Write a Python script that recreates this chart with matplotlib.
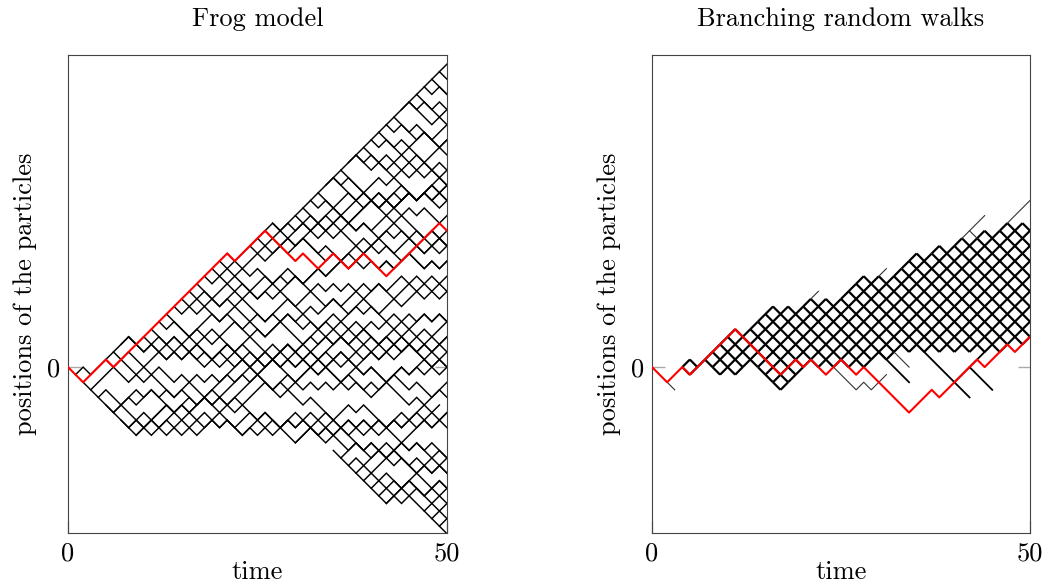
import matplotlib
matplotlib.use('Agg')
import matplotlib.pyplot as plt
import numpy as np
from matplotlib.collections import LineCollection

T_MAX = 50
Y_LO, Y_HI = -21.9, 41.2

# ---- frog model ----
# first frog (red), corner points
frog_red_t = [0, 2, 5, 6, 21, 22, 26, 30, 31, 33, 35, 37, 39, 42, 49, 50]
frog_red_y = [0, -2, 1, 0, 15, 14, 18, 14, 15, 13, 15, 13, 15, 12, 19, 18]

# woken frogs: wake-up time, site, walk as U/D steps
frog_start_t = [5, 6, 7, 8, 11, 12, 13, 14, 15, 16, 17, 18, 19, 20, 21,
                24, 25, 26, 27, 30, 31, 32, 33, 34, 35, 36, 37, 38, 39,
                40, 41, 42, 43, 44, 45, 46, 47, 48, 49,
                1, 2, 3, 4, 5, 6, 7, 8, 9, 30,
                35, 36, 37, 38, 39, 40, 41, 42, 47, 48, 49]
frog_start_y = [1, 2, 3, 4, 5, 6, 7, 8, 9, 10, 11, 12, 13, 14, 15,
                16, 17, 18, 19, 20, 21, 22, 23, 24, 25, 26, 27, 28, 29,
                30, 31, 32, 33, 34, 35, 36, 37, 38, 39,
                -1, -2, -3, -4, -5, -6, -7, -8, -9, -10,
                -11, -12, -13, -14, -15, -16, -17, -18, -19, -20, -21]
frog_steps = [
    "UUUDDUDUDDUUDDDUDUUDDUUUDDDUDUUDDUUDUUDUDDUDD",
    "DUDDDUDDUDDDUDUUUDUDDDUDDUDDDUUDUDDDUDUDUUDU",
    "UDUDDDUUDUUUDUUDDUDUUUDUDDUUDUUUDDUUDUUDUDU",
    "DDUUDUDDDUDUUDDDUDUDDDUUDUDDDUDUDUUDDUDDUD",
    "DDUDUDDDUUDUDDUDUUDDUDUUUDUDDUDUDUDDDUU",
    "DUDDUUUDUUDDUDUUUDDUDUUDUUUDUDDUUUDUDU",
    "DDDUDDUDDUUDDUDDDUUDUDUDDDUDDUUDUUDDU",
    "DUUDUDUUDUUUDUDUDUUDUUDUUDDUDUUUDUUD",
    "DDUDDUDDUDDUUDDDUDUDUDDUUDUDUDUDDUU",
    "DUDUUDUDDUUDUUDUUDUUDUUUDUDUUDDUDU",
    "DDDUDUDDDUDUDDUDUDDDUUDDUDUDDUDUD",
    "DUUDUUUDUUDUUUDUUUDUUUDUDUUDUUUD",
    "DDUDDDUDUDDUUDDUDDUDUDDDUUDUDUD",
    "DUUUDUUDUUUDUUDUDUUUDUUDUDUUDU",
    "DDDUDDUUDDDUDUDUDDUUDUUDDUDUD",
    "UUUDDDUDDUDDUDDUDUDUUDDUDU",
    "DDUUDUDDDUDUUDUUDDDUDDUDU",
    "DUUDUUDUUDUUDUUDDUUDUDUD",
    "DUUDDUDDUDDUDUUDUDDUUDD",
    "UDDDUDUDUDDUUDDUDDUD",
    "UDUDDDDUDUUDUDDDUDU",
    "UDDUUDUDDDUDUDUDDU",
    "UUDDDUDDUDUUDUDDU",
    "UDUDDDUDUUDDUDUD",
    "UDDDUUDUDDDUUDU",
    "UUDDUDDUUDUDDD",
    "UDUDDUDDUDUDU",
    "UDDUDUUDDDUD",
    "UDUDDDUDUUD",
    "UDDUDUUDDU",
    "UDUDDUDDU",
    "UDDUDDUU",
    "UUDDDUD",
    "UDUDDU",
    "UDDUD",
    "UDUD",
    "UDD",
    "UD",
    "U",
    "UDUUDUDDUUUDUDUDDUUDUDDDUUDUDUDUDDDUUDUDDUUDUDUUD",
    "DDDDDDDUUDUDDUDUUDUDDUDUUDUDUDDDUUDUDUDUUDUUUDU",
    "UUUDDUDUDDDUDDUDUDUUUUDDUDUDUDUDUUDDDUUDDDUDUUU",
    "UDDUUDUDDDUUDUUUUDUUUUDUUDUUUDUUDUDUDUUDDUUDUD",
    "DUDDUDUUDUDUUDDUDUDDUDDUUDDUDUDUDUDUDDDUUUDUU",
    "UUDUUDUDUUUDUDUUUDDUUDUUUDUUDUUDUDDUUDUDUDUU",
    "DUDUDUUDDUDUDUDDUUDDUDDUUDUDUDDDUDUDUDUDUDD",
    "UDUUUDUDUUDUDUDUUUDUUDUUDUUDUUDUDUDUUDUUDU",
    "UDUDUUUDUDUDDUUDUDDUDUUDUDDUDUDUDUUDUDDUD",
    "UUDUDDDUDDUDUDDDUDUD",
    "DUUDUDDUUDUDDUD",
    "DUDDUUDUDDUDUD",
    "DUUUDUDDUDUDU",
    "DUDDUDUUDDUD",
    "DUUDDUDDUUD",
    "DUDUUDDUDU",
    "DUDUUDDUD",
    "UUDDDDDD",
    "UDU",
    "UD",
    "U",
]

# ---- branching random walks ----
brw_red_t = [0, 2, 4, 5, 11, 17, 19, 20, 21, 23, 25, 27, 28, 34, 37, 38, 43, 44, 47, 48, 50]
brw_red_y = [0, -2, 0, -1, 5, -1, 1, 0, 1, -1, 1, -1, 0, -6, -3, -4, 1, 0, 3, 2, 4]

# lowest / highest occupied site of the dense cloud, t = 4..50
brw_times = list(range(4, 51))
brw_low = [0, -1, 0, 1, 0, -1, 0, -1, 0, 1, 0, -1, -2, -3, -2, -1, 0,
           1, 0, 1, 0, 1, 0, 1, 0, 1, 2, 1, 2, 3, 2, 3, 2, 3, 2, 3,
           2, 3, 2, 3, 2, 3, 2, 3, 4, 3, 4]
brw_high = [0, 1, 0, 1, 2, 3, 4, 5, 4, 5, 6, 7, 8, 7, 8, 7, 8,
            9, 8, 9, 8, 9, 10, 11, 12, 11, 12, 11, 12, 13, 14, 15, 14, 15,
            16, 15, 16, 17, 16, 17, 18, 17, 18, 19, 18, 19, 18]

# branches hanging below the cloud (thick), corner points
brw_branch_t = [[30, 34], [36, 42], [40, 42, 44, 45], [42, 44]]
brw_branch_y = [[2, -2], [2, -4], [-2, 0, -2, -3], [0, 2]]

# short-lived branches (thin lines), corner points
brw_thin_t = [[2, 3], [21, 22], [24, 27, 28, 29, 31], [30, 31], [32, 34],
              [41, 44], [42, 43], [47, 50]]
brw_thin_y = [[-2, -3], [9, 10], [0, -3, -2, -3, -1], [12, 13], [2, 0],
              [17, 20], [18, 17], [19, 22]]


def walk(t0, y0, steps):
    """
    Turns a U/D step string into the visited (time, site) points.
    """
    moves = [1 if s == 'U' else -1 for s in steps]
    t = t0 + np.arange(len(moves) + 1)
    y = y0 + np.concatenate([[0], np.cumsum(moves)])
    keep = t <= T_MAX
    return t[keep], y[keep]


def cloud_segments(times, low, high):
    """
    Every lattice step that stays inside the occupied band.
    """
    segs = []
    for i in range(len(times) - 1):
        for y in range(low[i], high[i] + 1, 2):
            for dy in (1, -1):
                if low[i + 1] <= y + dy <= high[i + 1]:
                    segs.append([(times[i], y), (times[i + 1], y + dy)])
    return segs


def style_axes(ax, title):
    ax.set_xlim(0, T_MAX)
    ax.set_ylim(Y_LO, Y_HI)
    ax.set_xticks([0, 50])
    ax.set_xticklabels(['0', '50'])
    ax.set_yticks([0])
    ax.set_yticklabels(['0'])
    ax.tick_params(direction='in', length=9, width=1, color='#aaaaaa',
                   labelsize=19, right=True, pad=6)
    for sp in ax.spines.values():
        sp.set_color('#444444')
        sp.set_linewidth(0.8)
    ax.set_title(title, fontsize=19, pad=21)
    ax.set_xlabel('time', fontsize=19)
    ax.xaxis.set_label_coords(0.5, -0.058)
    ax.set_ylabel('positions of the particles', fontsize=19)
    ax.yaxis.set_label_coords(-0.082, 0.5)


def plot_frogs(ax):
    for t0, y0, steps in zip(frog_start_t, frog_start_y, frog_steps):
        t, y = walk(t0, y0, steps)
        ax.plot(t, y, color='black', lw=1.05, solid_joinstyle='miter')
    ax.plot(frog_red_t, frog_red_y, color='red', lw=1.5, zorder=5)
    style_axes(ax, 'Frog model')


def plot_brw(ax):
    segs = cloud_segments(brw_times, brw_low, brw_high)
    ax.add_collection(LineCollection(segs, colors='black', linewidths=1.6))
    for t, y in zip(brw_branch_t, brw_branch_y):
        ax.plot(t, y, color='black', lw=1.3)
    for t, y in zip(brw_thin_t, brw_thin_y):
        ax.plot(t, y, color='#333333', lw=0.8)
    ax.plot(brw_red_t, brw_red_y, color='red', lw=1.5, zorder=5)
    style_axes(ax, 'Branching random walks')


def main():
    plt.rcParams['font.family'] = 'cmr10'
    plt.rcParams['mathtext.fontset'] = 'cm'
    plt.rcParams['axes.formatter.use_mathtext'] = True
    plt.rcParams['axes.unicode_minus'] = False

    fig = plt.figure(figsize=(10.52, 5.87), dpi=100)
    ax1 = fig.add_axes([0.0646, 0.092, 0.3603, 0.8143])
    ax2 = fig.add_axes([0.6198, 0.092, 0.3593, 0.8143])
    plot_frogs(ax1)
    plot_brw(ax2)
    fig.savefig('out.png', dpi=100)


if __name__ == "__main__":
    main()
